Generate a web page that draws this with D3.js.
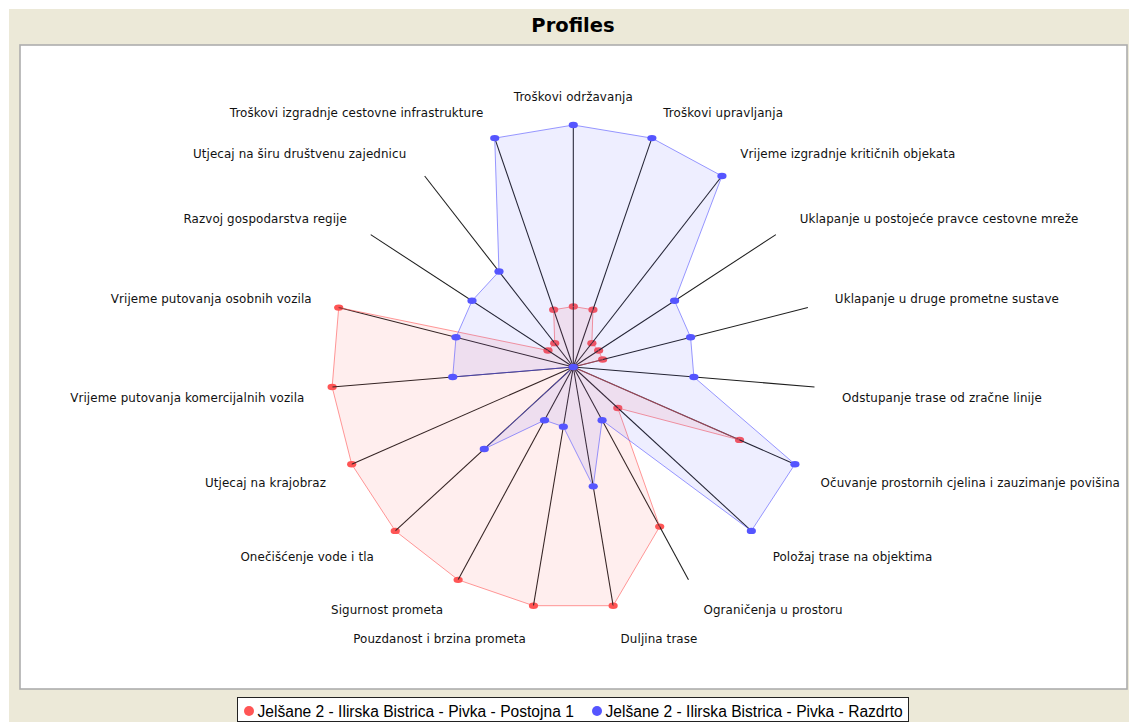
<!DOCTYPE html>
<html>
<head>
<meta charset="utf-8">
<script src="https://cdn.jsdelivr.net/npm/d3@7"></script>
<style>
  html, body { margin: 0; padding: 0; background: #ffffff; }
  svg { display: block; }
</style>
</head>
<body>
<svg id="chart" width="1129" height="722"></svg>
<script>
// Criteria around the web, clockwise from the top
const categories = [
  "Troškovi održavanja",
  "Troškovi upravljanja",
  "Vrijeme izgradnje kritičnih objekata",
  "Uklapanje u postojeće pravce cestovne mreže",
  "Uklapanje u druge prometne sustave",
  "Odstupanje trase od zračne linije",
  "Očuvanje prostornih cjelina i zauzimanje povišina",
  "Položaj trase na objektima",
  "Ograničenja u prostoru",
  "Duljina trase",
  "Pouzdanost i brzina prometa",
  "Sigurnost prometa",
  "Onečišćenje vode i tla",
  "Utjecaj na krajobraz",
  "Vrijeme putovanja komercijalnih vozila",
  "Vrijeme putovanja osobnih vozila",
  "Razvoj gospodarstva regije",
  "Utjecaj na širu društvenu zajednicu",
  "Troškovi izgradnje cestovne infrastrukture"
];

const seriesNames = [
  "Jelšane 2 - Ilirska Bistrica - Pivka - Postojna 1",
  "Jelšane 2 - Ilirska Bistrica - Pivka - Razdrto"
];

// Scores per criterion (0 = centre, 4 = outer end of each axis)
const postojnaValues = [1, 1, 0.5, 0.5, 0.5, 0, 3, 1, 3, 4, 4, 4, 4, 4, 4, 4, 0.5, 0.5, 1];
const razdrtoValues  = [4, 4, 4, 2, 2, 2, 4, 4, 1, 2, 1, 1, 2, 0, 2, 2, 2, 2, 4];

const seriesColors = ["#ff5555", "#5555ff"];
const chartTitle = "Profiles";

const W = 1129, H = 722;
const svg = d3.select("#chart");

// Background frame
svg.append("rect")
  .attr("x", 9).attr("y", 9)
  .attr("width", W - 9).attr("height", H - 9)
  .attr("fill", "#ece9d8");

// Title
svg.append("text")
  .attr("x", 573).attr("y", 31.5)
  .attr("text-anchor", "middle")
  .attr("font-family", "'DejaVu Sans', sans-serif")
  .attr("font-weight", "bold")
  .attr("font-size", "19.5px")
  .attr("fill", "#000")
  .text(chartTitle);

// Plot panel
svg.append("rect")
  .attr("x", 20).attr("y", 45)
  .attr("width", 1107).attr("height", 644)
  .attr("fill", "#ffffff")
  .attr("stroke", "#adadad")
  .attr("stroke-width", 1.6);

// Spider web geometry
const cx = 573.3, cy = 367, R = 242;
const n = categories.length;
const maxValue = d3.max([...postojnaValues, ...razdrtoValues]);
const angle = d3.scaleLinear().domain([0, n]).range([0, 2 * Math.PI]);
const radius = d3.scaleLinear().domain([0, maxValue]).range([0, R]);

const webPoint = (i, v) => {
  const a = angle(i), r = radius(v);
  return [cx + r * Math.sin(a), cy - r * Math.cos(a)];
};

const web = svg.append("g");
const labelFont = "'DejaVu Sans', sans-serif";
const labelSize = 11.9;
const labelAscent = 13.3;

const seriesData = [postojnaValues, razdrtoValues];

seriesData.forEach((vals, s) => {
  const g = web.append("g");
  const pts = vals.map((v, i) => webPoint(i, v));

  // point heads
  g.selectAll("ellipse")
    .data(pts)
    .join("ellipse")
    .attr("cx", d => d[0]).attr("cy", d => d[1])
    .attr("rx", 4.6).attr("ry", 3.2)
    .attr("fill", seriesColors[s]);

  if (s === 0) {
    // axis lines and category labels
    g.selectAll("line.axis")
      .data(categories)
      .join("line")
      .attr("class", "axis")
      .attr("x1", cx).attr("y1", cy)
      .attr("x2", (d, i) => webPoint(i, maxValue)[0])
      .attr("y2", (d, i) => webPoint(i, maxValue)[1])
      .attr("stroke", "#1e1e1e")
      .attr("stroke-width", 1.05);

    g.selectAll("text.label")
      .data(categories)
      .join("text")
      .attr("class", "label")
      .each(function (d, i) {
        const a = angle(i);
        const lr = R * 1.1;
        let x = cx + lr * Math.sin(a);
        let y = cy - lr * Math.cos(a);
        let anchor = "start";
        if (i === 0) anchor = "middle";
        else if (x < cx) { anchor = "end"; x -= 3.5; }
        else x += 3.5;
        if (y > cy + 0.5) y += labelAscent;
        else if (i !== 0) y += 1.5;
        d3.select(this)
          .attr("x", x).attr("y", y)
          .attr("text-anchor", anchor);
      })
      .attr("font-family", labelFont)
      .attr("font-size", labelSize + "px")
      .attr("letter-spacing", "0.1px")
      .attr("fill", "#111")
      .text(d => d);
  }

  // web outline and translucent fill
  g.append("polygon")
    .attr("points", pts.map(p => p.join(",")).join(" "))
    .attr("fill", seriesColors[s])
    .attr("fill-opacity", 0.1)
    .attr("stroke", seriesColors[s])
    .attr("stroke-opacity", 0.6)
    .attr("stroke-width", 1);
});

// Legend
const legend = svg.append("g");
legend.append("rect")
  .attr("x", 237.5).attr("y", 697.5)
  .attr("width", 671).attr("height", 24)
  .attr("fill", "#ffffff")
  .attr("stroke", "#222")
  .attr("stroke-width", 1);

const legendX = [249, 597];
seriesNames.forEach((name, s) => {
  legend.append("circle")
    .attr("cx", legendX[s]).attr("cy", 711)
    .attr("r", 5)
    .attr("fill", seriesColors[s]);
  legend.append("text")
    .attr("x", legendX[s] + 8.5).attr("y", 716.5)
    .attr("font-family", "'Liberation Sans', Arial, sans-serif")
    .attr("font-size", "15.6px")
    .attr("fill", "#000")
    .text(name);
});
</script>
</body>
</html>
